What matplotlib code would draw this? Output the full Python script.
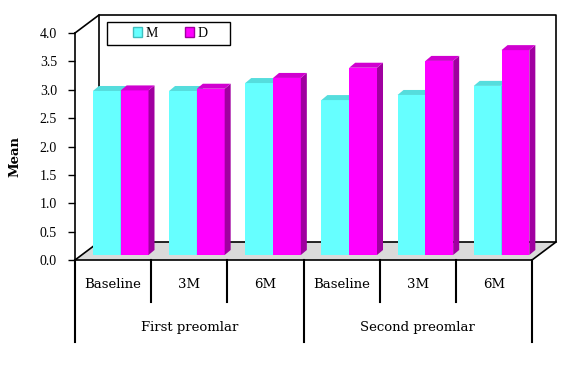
import matplotlib
matplotlib.use("Agg")
import matplotlib.pyplot as plt
from matplotlib.patches import Polygon, Rectangle, Patch
from matplotlib.transforms import blended_transform_factory

# data
groups = ["First preomlar", "Second preomlar"]
times = ["Baseline", "3M", "6M"]
series = ["M", "D"]
m_vals = [2.89, 2.89, 3.03, 2.73, 2.82, 2.98]
d_vals = [2.90, 2.93, 3.12, 3.30, 3.42, 3.61]
yticks = [0.0, 0.5, 1.0, 1.5, 2.0, 2.5, 3.0, 3.5, 4.0]

# colours: front, side, top
CYAN = ("#66FFFF", "#3FBFBF", "#55DDDD")
MAGENTA = ("#FF00FF", "#A000A0", "#D000D0")

W, H = 573, 368
fig = plt.figure(figsize=(W / 100, H / 100), dpi=100)

# axes covers front-left axis up to back wall top/right
ax = fig.add_axes([75 / W, 1 - 260 / H, (556 - 75) / W, (260 - 15) / H])

n = len(m_vals)
px_x = 76.2          # pixels per category
px_y = 56.75         # pixels per unit
DX, DY = 24 / px_x, 18 / px_y        # depth of the 3D box
BOX, BOY = 0.10, 5 / px_y            # bar row offset into the box
SDX, SDY = 6 / px_x, 5 / px_y        # bar depth
BW = 0.365

ax.set_xlim(0, n + DX)
ax.set_ylim(0, 4 + 18 / px_y)
for s in ax.spines.values():
    s.set_visible(False)
ax.set_xticks([])
ax.set_yticks(yticks)
ax.set_yticklabels([f"{t:.1f}" for t in yticks], family="Liberation Serif", fontsize=10)
ax.tick_params(axis="y", length=5, width=1, pad=8, direction="out")

# floor
ax.add_patch(Polygon([(0, 0), (n, 0), (n + DX, DY), (DX, DY)], closed=True,
                     facecolor="#DADADA", edgecolor="none", zorder=1))
# frame lines
lk = dict(color="black", lw=1.2, zorder=2, clip_on=False)
ax.plot([0, 0], [0, 4], **lk)
ax.plot([0, DX], [4, 4 + DY], **lk)
ax.plot([DX, DX, n + DX, n + DX, DX], [DY, 4 + DY, 4 + DY, DY, DY], **lk)
ax.plot([0, DX], [0, DY], **lk)
ax.plot([0, n], [0, 0], **lk)
ax.plot([n, n + DX], [0, DY], **lk)


def draw_bar(x0, val, cols):
    front, side, top = cols
    y0 = BOY
    y1 = BOY + val
    ax.bar(x0, val, width=BW, bottom=y0, align="edge", color=front,
           edgecolor="none", zorder=3)
    ax.add_patch(Polygon([(x0 + BW, y0), (x0 + BW + SDX, y0 + SDY),
                          (x0 + BW + SDX, y1 + SDY), (x0 + BW, y1)],
                         closed=True, facecolor=side, edgecolor="none", zorder=3))
    ax.add_patch(Polygon([(x0, y1), (x0 + BW, y1), (x0 + BW + SDX, y1 + SDY),
                          (x0 + SDX, y1 + SDY)],
                         closed=True, facecolor=top, edgecolor="none", zorder=3))


for i in range(n):
    xc = i + 0.5 + BOX
    draw_bar(xc - BW, m_vals[i], CYAN)
    draw_bar(xc, d_vals[i], MAGENTA)

# category axis below
tr = blended_transform_factory(ax.transData, ax.transAxes)
ah = 260 - 15
for i in range(n + 1):
    depth = 82 if i % 3 == 0 else 42
    ax.plot([i, i], [0, -depth / ah], transform=tr, color="black", lw=1.5,
            clip_on=False)
labels = times * len(groups)
for i, lab in enumerate(labels):
    ax.text(i + 0.5, -25 / ah, lab, transform=tr, ha="center", va="center",
            family="DejaVu Serif", fontsize=9.5)
for g, name in enumerate(groups):
    ax.text(g * 3 + 1.5, -67 / ah, name, transform=tr, ha="center",
            va="center", family="DejaVu Serif", fontsize=9.5)

fig.text(15 / W, 1 - 157 / H, "Mean", rotation=90, ha="center", va="center",
         family="DejaVu Serif", fontweight="bold", fontsize=9.5)

# legend
fig.patches.append(Rectangle((107 / W, 1 - 45 / H), 123 / W, 23 / H,
                             transform=fig.transFigure, facecolor="white",
                             edgecolor="black", lw=1, zorder=5))
handles = [Patch(facecolor=CYAN[0], edgecolor=CYAN[1]),
           Patch(facecolor=MAGENTA[0], edgecolor=MAGENTA[1])]
leg = fig.legend(handles, series, loc="center",
                 bbox_to_anchor=(170 / W, 1 - 33.5 / H), ncol=2, frameon=False,
                 prop={"family": "Liberation Serif", "size": 10},
                 handlelength=0.7, handleheight=0.7, handletextpad=0.2,
                 columnspacing=1.95)
leg.set_zorder(6)

fig.savefig("out.png", dpi=100)
